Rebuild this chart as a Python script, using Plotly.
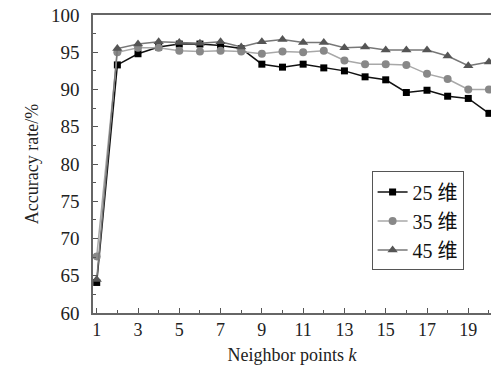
import plotly.graph_objects as go

k = list(range(1, 21))
acc_25 = [64.1, 93.3, 94.8, 95.7, 96.1, 96.1, 95.9, 95.5, 93.4, 93.0, 93.4, 92.9, 92.5, 91.7, 91.3, 89.6, 89.9, 89.1, 88.8, 86.8]
acc_35 = [67.6, 95.0, 95.6, 95.6, 95.2, 95.1, 95.2, 95.1, 94.8, 95.1, 95.0, 95.2, 93.9, 93.4, 93.4, 93.3, 92.1, 91.4, 90.0, 90.0]
acc_45 = [64.5, 95.5, 96.1, 96.4, 96.3, 96.2, 96.4, 95.7, 96.4, 96.7, 96.3, 96.3, 95.6, 95.7, 95.3, 95.3, 95.3, 94.5, 93.2, 93.7]
names = ["25 维", "35 维", "45 维"]

FONT = "Liberation Serif, Times New Roman, Noto Sans CJK SC, serif"

fig = go.Figure()
fig.add_trace(go.Scatter(x=k, y=acc_25, name=names[0], mode="lines+markers",
                         line=dict(color="#111111", width=1.5),
                         marker=dict(symbol="square", size=7, color="#000000")))
fig.add_trace(go.Scatter(x=k, y=acc_35, name=names[1], mode="lines+markers",
                         line=dict(color="#a8a8a8", width=1.5),
                         marker=dict(symbol="circle", size=8, color="#888888")))
fig.add_trace(go.Scatter(x=k, y=acc_45, name=names[2], mode="lines+markers",
                         line=dict(color="#777777", width=1.5),
                         marker=dict(symbol="triangle-up", size=9, color="#555555")))

fig.update_layout(
    template="none",
    width=491, height=376,
    margin=dict(l=93, r=0, t=15, b=63, autoexpand=False),
    paper_bgcolor="white", plot_bgcolor="white",
    font=dict(family=FONT, size=15, color="#222222"),
    showlegend=True,
    legend=dict(x=0.70, y=0.475, xanchor="left", yanchor="top",
                bgcolor="white", bordercolor="#555555", borderwidth=1,
                font=dict(family=FONT, size=20, color="#111111"),
                tracegroupgap=0, itemwidth=30),
)
fig.update_xaxes(
    automargin=False,
    range=[0.82, 20.1], tick0=1, dtick=2, ticks="inside", ticklen=5,
    tickcolor="#555555", showgrid=False, zeroline=False,
    showline=True, linecolor="#666666", linewidth=1.5, mirror=True,
    minor=dict(dtick=1, tick0=1, ticks="inside", ticklen=3, tickcolor="#555555", showgrid=False),
    title=dict(text="Neighbor points <i>k</i>", font=dict(size=18), standoff=9),
    tickfont=dict(size=18),
)
fig.update_yaxes(
    automargin=False,
    range=[60, 100], tick0=60, dtick=5, ticks="inside", ticklen=5,
    tickcolor="#555555", showgrid=False, zeroline=False,
    showline=True, linecolor="#666666", linewidth=1.5, mirror=True,
    minor=dict(dtick=2.5, ticks="inside", ticklen=3, tickcolor="#555555", showgrid=False),
    title=dict(text="Accuracy rate/%", font=dict(size=18), standoff=8),
    tickfont=dict(size=19), ticklabelstandoff=8,
)

fig.write_html("out.html", config={"displayModeBar": False},
               post_script="document.body.style.margin='0';")
